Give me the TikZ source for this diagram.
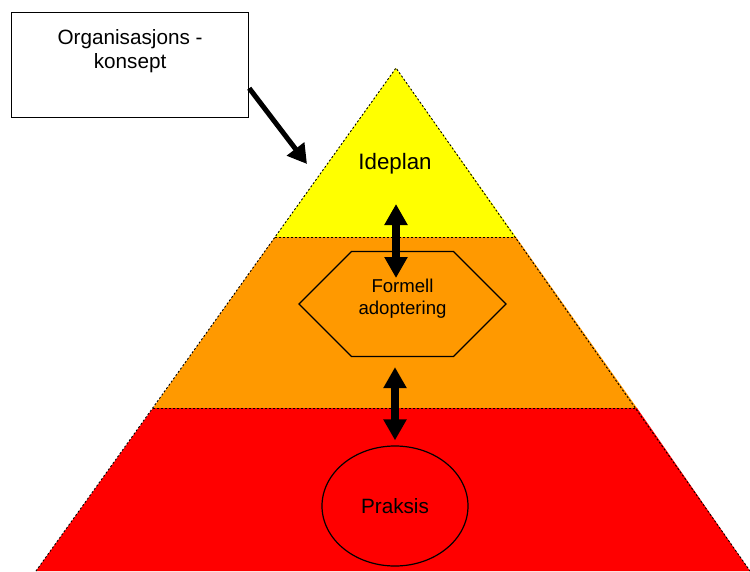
\documentclass[tikz,border=0pt]{standalone}
\usepackage{fontspec}
\setmainfont{Liberation Sans}
\usetikzlibrary{arrows.meta,shapes.geometric,shapes.symbols}
\definecolor{gul}{RGB}{255,255,0}
\definecolor{oransje}{RGB}{255,153,0}
\definecolor{rod}{RGB}{255,0,0}
\tikzset{lagkant/.style={draw=black,dash pattern=on 2pt off 2pt,line width=0.9pt},
	pil/.style={-{Triangle[length=19pt,width=21pt]},line width=5pt},
	dobbelpil/.style={{Triangle[length=21pt,width=22pt]}-{Triangle[length=21pt,width=22pt]},line width=7.5pt}}

\begin{document}
\begin{tikzpicture}[x=1pt,y=-1pt]
				      \useasboundingbox (0,0) rectangle (750,571);
				      % pyramiden
				      \coordinate (topp) at (396,68);
				      \coordinate (gv) at (275,237);
				      \coordinate (gh) at (516,237);
				      \coordinate (ov) at (153,408);
				      \coordinate (oh) at (637,408);
				      \coordinate (rv) at (36,571);
				      \coordinate (rh) at (750,571);

				      \fill[gul] (topp) -- (gv) -- (gh) -- cycle;
				      \fill[oransje] (gv) -- (ov) -- (oh) -- (gh) -- cycle;
				      \fill[rod] (ov) -- (rv) -- (rh) -- (oh) -- cycle;
				      \draw[lagkant] (rv) -- (topp) -- (rh);
				      \draw[lagkant] (gv) -- (gh);
				      \draw[lagkant] (ov) -- (oh);

				      \node[shape=rectangle,draw=black,fill=white,line width=1.2pt,minimum width=237pt,minimum height=105pt,anchor=north west,
				        label={[align=center,anchor=north,yshift=-14pt,font=\fontsize{20.7}{24}\selectfont]north:Organisasjons -\\konsept}] (konsept) at (11,12) {};
				      \node[font=\fontsize{22.3}{26}\selectfont] (ideplan) at (395,164) {Ideplan};
				      \node[shape=signal,signal to=east and west,draw=black,line width=1.2pt,minimum width=207pt,minimum height=105pt,inner sep=0pt,
				        align=center,text depth=15pt,font=\fontsize{18.6}{22}\selectfont] (formell) at (402.5,304) {Formell\\adoptering};
				      \node[shape=ellipse,draw=black,fill=rod,line width=1.2pt,minimum width=146pt,minimum height=120pt,
				        font=\fontsize{20.7}{24}\selectfont] (praksis) at (395,506) {Praksis};

				      \coordinate (pilspiss) at (307,164);
				      \coordinate (opp) at (396,204);
				      \coordinate (ned) at (396,278);

				      \draw[pil] (konsept.-11) -- (pilspiss);
				      \draw[dobbelpil] (opp) -- (ned);
				      \draw[dobbelpil] ([yshift=-10pt]formell.south -| praksis) -- ([yshift=5pt]praksis.north);
			      \end{tikzpicture}
\end{document}
